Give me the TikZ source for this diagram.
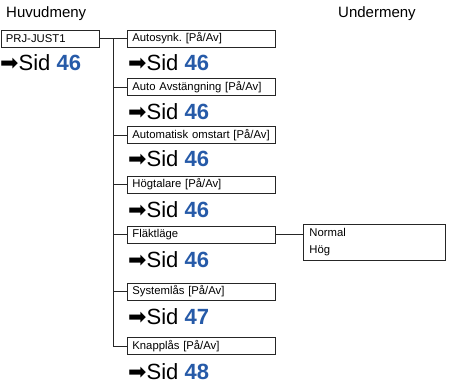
\documentclass[tikz,border=0pt]{standalone}
\usepackage{fontspec}
\setmainfont{Liberation Sans}
\newfontfamily\symfont{DejaVu Sans}
\definecolor{sidblue}{RGB}{38,90,168}
\newcommand\sidref[1]{{\symfont ➡}Sid {\bfseries\color{sidblue}#1}}
\frenchspacing
\begin{document}
\frenchspacing
\begin{tikzpicture}[x=1pt,y=-1pt,
  box/.style={draw=black!85, line width=0.8pt, rectangle, anchor=west, inner xsep=5pt, inner ysep=0pt, minimum height=17pt, text width=138pt, align=left, font=\fontsize{11.3}{13}\selectfont},
  sid/.style={anchor=base west, inner sep=0pt, font=\fontsize{22}{24}\selectfont},
  conn/.style={draw=black!85, line width=0.8pt},
  head/.style={anchor=base west, inner sep=0pt, font=\fontsize{15}{17}\selectfont}]
\useasboundingbox (0,0) rectangle (449,385);
\node[head] (h1) at (6,18) {Huvudmeny};
\node[head] (h2) at (338,18) {Undermeny};
\node[box, text width=88.5pt] (prj) at (0.5,38.5) {PRJ-JUST1};
\node[sid] (s0) at (0,71) {\sidref{46}};
\node[box] (a1) at (127,38.5) {Autosynk. [På/Av]};
\node[sid] (s1) at (128,71) {\sidref{46}};
\node[box] (a2) at (127,87) {Auto Avstängning [På/Av]};
\node[sid] (s2) at (128,119) {\sidref{46}};
\node[box] (a3) at (127,135) {Automatisk omstart [På/Av]};
\node[sid] (s3) at (128,166) {\sidref{46}};
\node[box] (a4) at (127,184.5) {Högtalare [På/Av]};
\node[sid] (s4) at (128,217) {\sidref{46}};
\node[box] (a5) at (127,234.5) {Fläktläge};
\node[sid] (s5) at (128,267) {\sidref{46}};
\node[box] (a6) at (127,291.5) {Systemlås [På/Av]};
\node[sid] (s6) at (128,324) {\sidref{47}};
\node[box] (a7) at (127,346) {Knapplås [På/Av]};
\node[sid] (s7) at (128,379) {\sidref{48}};
\node[draw=black!85, line width=0.8pt, rectangle, anchor=north west, minimum width=142pt, minimum height=36pt, inner xsep=6pt, inner ysep=3pt, text width=130pt, align=left, font=\fontsize{11.3}{17}\selectfont] (sub) at (303,224) {Normal\\Hög};
\coordinate (t) at (113,38.5);
\draw[conn] (prj.east) -- (a1.west);
\draw[conn] (t) |- (a7.west);
\foreach \n in {a2,a3,a4,a5,a6} \draw[conn] (\n.west) -- (\n.west -| t);
\draw[conn] (a5.east) -- (a5.east -| sub.west);
\end{tikzpicture}
\end{document}
